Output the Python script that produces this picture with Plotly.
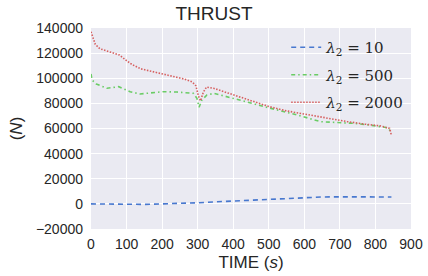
import plotly.graph_objects as go

t_blue = [0, 50, 100, 150, 200, 250, 300, 350, 400, 450, 500, 550, 600, 650, 700, 750, 800, 845]
v_blue = [0, -300, -600, -400, 0, 300, 900, 1600, 2300, 3000, 3700, 4400, 5000, 5500, 5600, 5600, 5600, 5500]

t_green = [0, 3, 15, 45, 78, 110, 138, 170, 204, 242, 288, 298, 304, 312, 326, 346, 393, 440, 487, 535, 581, 646, 690, 740, 790, 834, 844]
v_green = [103400, 98600, 95400, 92000, 93300, 89300, 87500, 88500, 89300, 89000, 88000, 84000, 76900, 82700, 86700, 88000, 84800, 81000, 77400, 74000, 70700, 65400, 64800, 64100, 62500, 60600, 57500]

t_red = [0, 5, 12, 25, 50, 80, 100, 115, 140, 170, 200, 230, 260, 285, 295, 302, 308, 316, 325, 345, 400, 450, 500, 550, 600, 640, 680, 720, 770, 816, 840, 845]
v_red = [137000, 132000, 127000, 123500, 121000, 118500, 114000, 111000, 107500, 105500, 103500, 101500, 99500, 97000, 94000, 86000, 82000, 89000, 93000, 92000, 87000, 82000, 77500, 74000, 71500, 69000, 67500, 65500, 63500, 62000, 60000, 54500]

names = ["<i>λ</i><sub>2</sub> = 10", "<i>λ</i><sub>2</sub> = 500", "<i>λ</i><sub>2</sub> = 2000"]
colors = ["#4878CF", "#6ACC65", "#D65F5F"]
dashes = ["5px,4px", "4px,3px,1.5px,3px", "1.5px,1.5px"]

fig = go.Figure()
for i, (t, v, n, c, d) in enumerate(zip([t_blue, t_green, t_red], [v_blue, v_green, v_red], names, colors, dashes)):
    fig.add_trace(go.Scatter(x=t, y=v, mode="lines", name=n, legendgroup=f"g{i}",
                             line=dict(color=c, width=1.6, dash=d)))

fig.update_layout(
    width=428, height=276,
    margin=dict(l=91, r=17, t=28, b=47),
    paper_bgcolor="white", plot_bgcolor="#EAEAF2",
    font=dict(family="Liberation Sans, Arial, sans-serif", size=14, color="#262626"),
    title=dict(text="THRUST", x=0.5, xanchor="center", y=0.975, yanchor="top",
               font=dict(size=19, color="#262626")),
    xaxis=dict(range=[0, 900], tickvals=[0, 100, 200, 300, 400, 500, 600, 700, 800, 900],
               gridcolor="white", gridwidth=1, zeroline=False, showline=False,
               ticks="", ticklabelstandoff=5, automargin=False,
               title=dict(text="TIME (<i>s</i>)", font=dict(size=17), standoff=5)),
    yaxis=dict(range=[-20000, 140000], tickvals=list(range(-20000, 140001, 20000)),
               ticktext=["\u221220000"] + [str(v) for v in range(0, 140001, 20000)],
               gridcolor="white", gridwidth=1, zeroline=False, showline=False,
               ticks="", ticklabelstandoff=7, automargin=False,
               title=dict(text="(<i>N</i>)", font=dict(size=17), standoff=8)),
    legend=dict(x=0.61, y=0.985, xanchor="left", yanchor="top", bgcolor="rgba(0,0,0,0)",
                font=dict(family="DejaVu Serif, serif", size=15, color="#262626"),
                tracegroupgap=5),
    showlegend=True,
)

fig.write_html("out.html", config={"displayModeBar": False},
               post_script="document.body.style.margin='0';document.body.style.overflow='hidden';")
